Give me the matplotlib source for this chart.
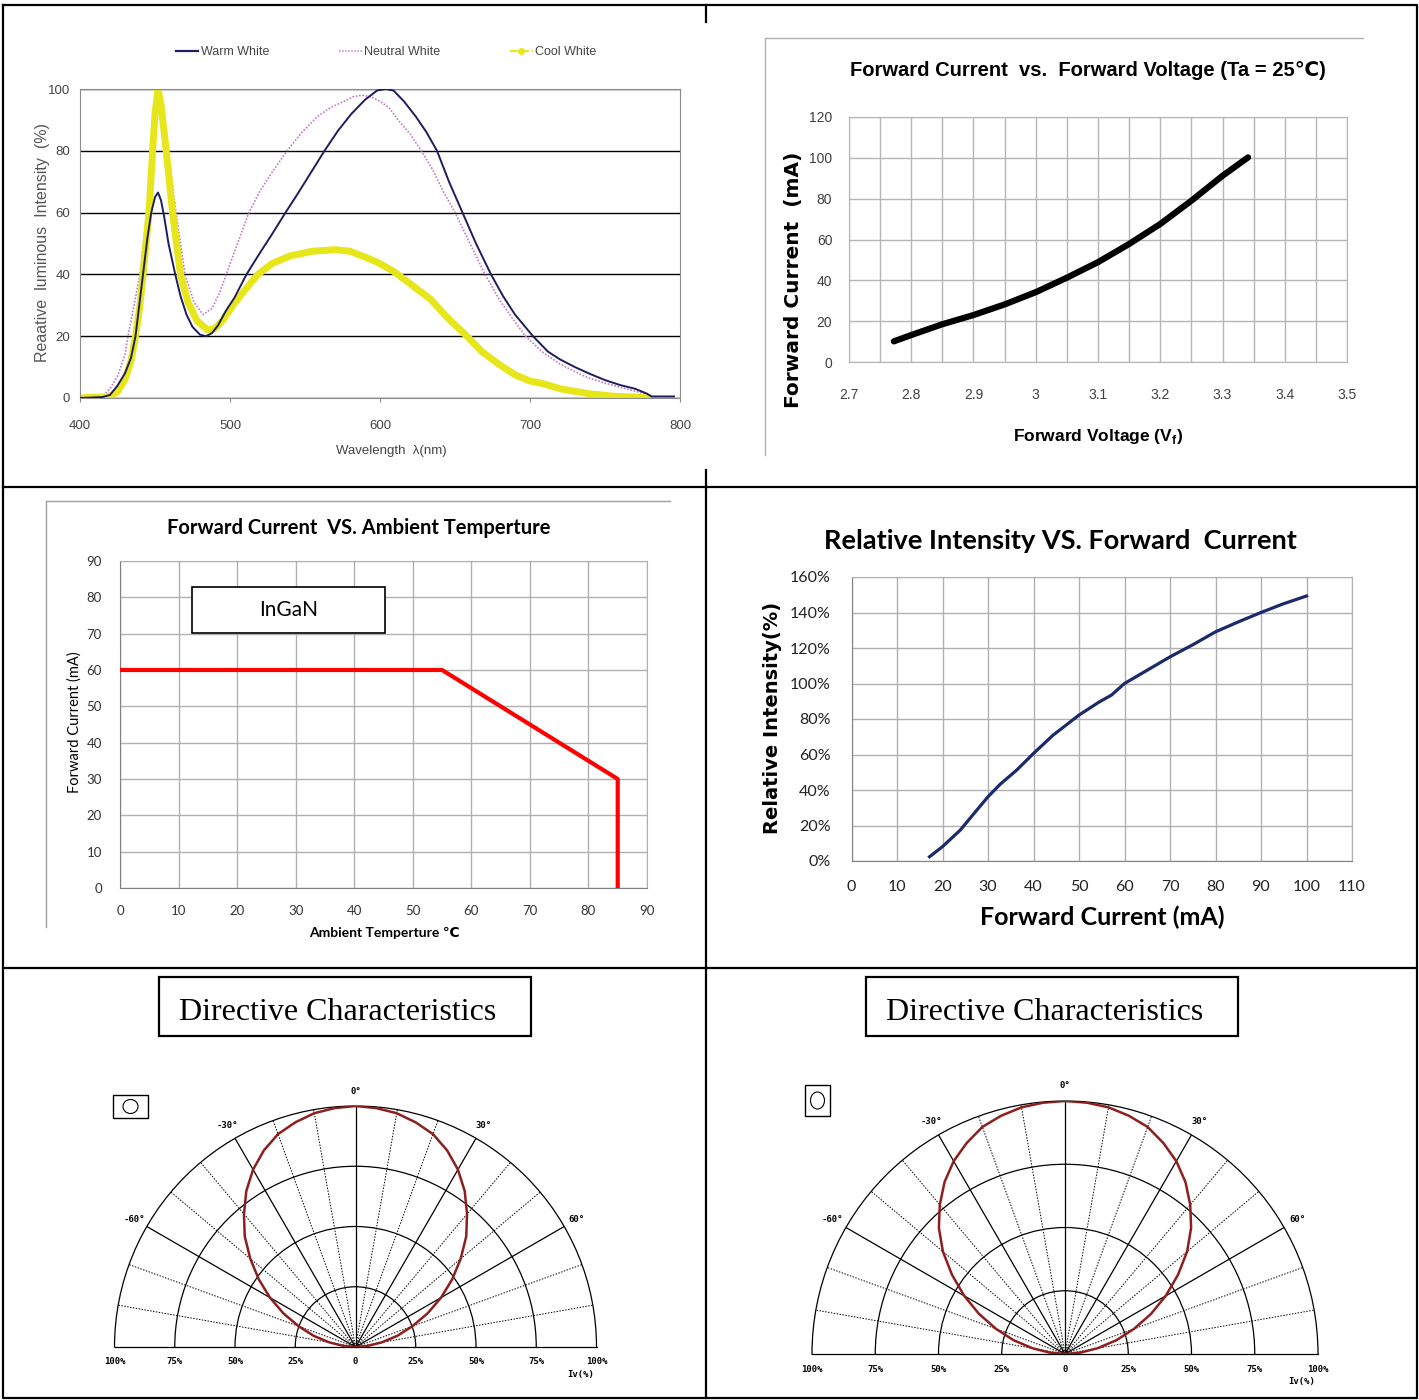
import numpy as np
import matplotlib
matplotlib.use("Agg")
import matplotlib.pyplot as plt
from matplotlib import font_manager
from matplotlib.lines import Line2D
from matplotlib.patches import Rectangle, Ellipse
from matplotlib.transforms import offset_copy

# ----------------------------------------------------
# Data
# ----------------------------------------------------

# Spectrum: wavelength (nm) vs relative intensity (%)
warm_nm = [400, 410, 415, 420, 425, 430, 434, 437, 442, 445, 447.5, 450, 452, 454, 456,
           459, 463.5, 467, 471, 475, 480, 484, 488, 492, 497, 503, 511, 520, 528, 537,
           545, 554, 563, 572, 581, 590, 598, 604, 609, 616, 624, 631, 638, 646, 655,
           664, 674, 682, 690, 702, 712, 720, 730, 740, 750, 760, 770, 778, 781, 790, 796]
warm_val = [0, 0.2, 0.3, 1, 4, 8, 13, 20, 40, 52, 60, 65, 66.5, 64, 59,
            50, 40, 33, 27, 23, 20.5, 20, 21, 23.5, 28, 32.5, 40, 47, 53, 60,
            66, 73, 80, 86.5, 92, 96.5, 99.5, 100, 99.5, 96, 91, 86, 80, 70, 60,
            50, 40, 33, 27, 20, 15, 12.5, 10, 7.8, 5.8, 4.2, 3, 1.4, 0.5, 0.5, 0.5]

neutral_nm = [400, 410, 416, 420, 425, 430, 432, 436, 440, 444.5, 448, 451, 454, 458.7,
              464, 470, 476, 482, 488, 493, 497.5, 505, 512.6, 520, 528, 538, 548, 558,
              567, 576, 582, 588, 594, 600, 606, 612, 620, 627.5, 635, 642, 650, 660,
              670, 680, 688, 697, 708, 720, 730, 739, 750, 760, 770, 780]
neutral_val = [0, 0.3, 1, 3, 7, 14, 20, 30, 40, 60, 80, 96, 95, 80,
               60, 40, 31, 27, 29, 34, 40, 50, 60, 67, 73, 80, 86, 91,
               94, 96, 97.5, 98, 97.5, 96, 94, 90, 85.5, 80, 74, 67, 60, 50,
               40, 31.5, 26, 20, 15, 11, 8.5, 6.5, 4.8, 3.5, 2.2, 1]

cool_nm = [400, 410, 419, 425, 430, 434, 437, 440, 442, 446, 448.4, 450, 452, 454,
           457.5, 461.7, 467, 472, 478, 485, 490, 495, 502, 510, 518.6, 528, 540, 555,
           570, 580, 588, 598, 609, 620, 633.6, 645, 658, 668, 679, 690, 700, 709, 720,
           739, 755, 770, 780]
cool_val = [0, 0.3, 0.3, 2, 6, 12, 20, 30, 40, 60, 80, 92, 100, 95,
            80, 60, 40, 31, 25, 22, 22.5, 25, 30, 35, 40, 43.5, 46, 47.5,
            48, 47.5, 46, 44, 41, 37, 32, 26, 20, 15, 11, 7.5, 5.5, 4.6, 3,
            1.4, 0.6, 0.3, 0]

# Forward current vs forward voltage
fv_volt = [2.772, 2.80, 2.85, 2.90, 2.95, 3.00, 3.05, 3.10, 3.15, 3.20, 3.25, 3.30, 3.341]
fv_ma = [10.1, 13.2, 18.5, 23, 28.2, 34.2, 41.3, 48.9, 57.8, 67.6, 79, 91.2, 100.2]

# Forward current derating vs ambient temperature
temp_c = [0, 55, 85, 85]
temp_ma = [60, 60, 30, 0]

# Relative intensity vs forward current
ri_ma = [17.15, 20, 23.9, 27, 30, 32.7, 36.3, 40, 44.3, 50, 54.5, 57.1, 60, 65, 70,
         75.2, 80, 85, 90, 94.7, 100]
ri_pct = [2.4, 8.1, 17.4, 27, 36.2, 43.3, 51.2, 60.6, 70.9, 82.2, 89.7, 93.4, 100, 107.5, 115,
          122.1, 129.1, 134.7, 140, 144.7, 149.3]

# Directive characteristics: angle (deg) vs relative intensity (%)
dir_deg = [-90, -85, -80, -75, -70, -65, -60, -55, -50, -45, -40, -35, -30, -25, -20, -15,
           -10, -5, 0, 5, 10, 15, 20, 25, 30, 35, 40, 45, 50, 55, 60, 65, 70, 75, 80, 85, 90]
dir_left = [0, 5, 11, 18, 25, 33, 41, 49, 57, 65, 72, 79, 85, 90, 94, 96.5,
            98.5, 99.5, 100, 99.5, 98.5, 96.5, 94, 90, 85, 79, 72, 65, 57, 49, 41, 33, 25, 18, 11, 5, 0]
dir_right = [0, 6, 13, 21, 29, 37.5, 46, 54.5, 63, 70.5, 77, 83, 88, 92, 95.5, 97.5,
             99, 99.7, 100, 99.7, 99, 97.5, 95.5, 92, 88, 83, 77, 70.5, 63, 54.5, 46, 37.5, 29, 21, 13, 6, 0]

ring_labels = [25, 50, 75, 100]
angle_labels = [-60, -30, 0, 30, 60]

# ----------------------------------------------------
# Fonts / figure
# ----------------------------------------------------

names = {f.name for f in font_manager.fontManager.ttflist}
NARROW = "Liberation Sans Narrow" if "Liberation Sans Narrow" in names else "Liberation Sans"
NARROW_F = [NARROW, "DejaVu Sans"]
CAL_F = ["Lato", "DejaVu Sans"]

W, H = 1419, 1400
fig = plt.figure(figsize=(W / 100, H / 100), dpi=100)


def add_px_axes(x0, y0, x1, y1, **kw):
    """Add axes given pixel box (top-left origin)."""
    return fig.add_axes([x0 / W, 1 - y1 / H, (x1 - x0) / W, (y1 - y0) / H], **kw)


def tick_font(ax, family, size, color="#333333", weight="normal"):
    for lab in ax.get_xticklabels() + ax.get_yticklabels():
        lab.set_fontfamily(family)
        lab.set_fontsize(size)
        lab.set_color(color)
        lab.set_fontweight(weight)


# background layer for table lines, titles and labels (pixel coords)
bg = fig.add_axes([0, 0, 1, 1])
bg.set_xlim(0, W)
bg.set_ylim(H, 0)
bg.axis("off")

lw_tab = 1.6
bg.plot([3, 1417, 1417, 3, 3], [5, 5, 1398, 1398, 5], color="black", lw=lw_tab)
bg.plot([3, 1417], [487, 487], color="black", lw=lw_tab)
bg.plot([3, 1417], [968, 968], color="black", lw=lw_tab)
bg.plot([706, 706], [5, 22], color="black", lw=lw_tab)
bg.plot([706, 706], [470, 1398], color="black", lw=lw_tab)

# ----------------------------------------------------
# Panel 1: spectrum
# ----------------------------------------------------

ax1 = add_px_axes(80, 89, 680, 398)
ax1.plot(neutral_nm, neutral_val, color="#c27ac2", lw=1.2, ls=(0, (1, 1)), zorder=2)
ax1.plot(cool_nm, cool_val, color="#e6e61a", lw=5, zorder=2.5, solid_capstyle="round")
ax1.plot(warm_nm, warm_val, color="#1e1e5c", lw=1.4, zorder=3)
ax1.set_xlim(400, 800)
ax1.set_ylim(0, 100)
ax1.set_xticks(range(400, 801, 100))
ax1.set_yticks(range(0, 101, 20))
ax1.grid(axis="y", color="black", lw=1)
for s in ax1.spines.values():
    s.set_color("#8c8c8c")
ax1.tick_params(axis="y", length=0, pad=7)
ax1.tick_params(axis="x", length=3, color="#8c8c8c", pad=13)
tick_font(ax1, NARROW_F, 9.5, "#444444")

handles = [
    Line2D([], [], color="#1e1e5c", lw=1.6),
    Line2D([], [], color="#c27ac2", lw=1.1, ls=(0, (1, 1))),
    Line2D([], [], color="#e6e61a", lw=1.5, ls="--", marker="o", ms=4),
]
leg = ax1.legend(handles, ["Warm White", "Neutral White", "Cool White"], ncol=3,
                 loc="center", bbox_to_anchor=(0.51, 1.12), frameon=False,
                 handlelength=1.8, handletextpad=0.2, columnspacing=5.6,
                 prop={"family": NARROW_F, "size": 9})
for t in leg.get_texts():
    t.set_color("#444444")

bg.text(43, 243, "Reaative  luminous  Intensity  (%)", rotation=90, ha="center", va="center",
        fontsize=11.5, color="#555555", family=["Liberation Sans", "DejaVu Sans"])
bg.text(391, 451, "Wavelength  λ(nm)", ha="center", va="center", fontsize=9.5,
        color="#444444", family=NARROW_F)

# ----------------------------------------------------
# Panel 2: forward current vs forward voltage
# ----------------------------------------------------

bg.plot([765, 765], [38, 455], color="#b0b0b0", lw=1)
bg.plot([765, 1363], [38, 38], color="#b0b0b0", lw=1)

ax2 = add_px_axes(849, 117, 1347, 362)
ax2.plot(fv_volt, fv_ma, color="black", lw=4.5, solid_capstyle="round", zorder=3)
ax2.set_xlim(2.7, 3.5)
ax2.set_ylim(0, 120)
xt = np.round(np.arange(2.7, 3.51, 0.1), 1)
ax2.set_xticks(xt)
ax2.set_xticklabels([f"{v:g}" for v in xt])
ax2.set_xticks(np.round(np.arange(2.75, 3.5, 0.1), 2), minor=True)
ax2.set_yticks(range(0, 121, 20))
ax2.grid(which="both", color="#b5b5b5", lw=1)
for s in ax2.spines.values():
    s.set_color("#b5b5b5")
ax2.tick_params(which="both", length=0)
ax2.tick_params(axis="y", pad=12)
ax2.tick_params(axis="x", pad=19)
tick_font(ax2, NARROW_F, 10, "#404040")

bg.text(1088, 70, "Forward Current  vs.  Forward Voltage (Ta = 25℃)", ha="center", va="center",
        fontsize=14.5, fontweight="bold", family=NARROW_F)
bg.text(793, 280, "Forward Current  (mA)", rotation=90, ha="center", va="center",
        fontsize=14.5, fontweight="bold", family="DejaVu Sans")
bg.text(1098, 436, r"Forward Voltage (V$_\mathregular{f}$)", ha="center", va="center",
        fontsize=12.5, fontweight="bold", family=NARROW_F)

# ----------------------------------------------------
# Panel 3: derating curve
# ----------------------------------------------------

bg.plot([46, 46], [501, 927], color="#a0a0a0", lw=1)
bg.plot([46, 670], [501, 501], color="#a0a0a0", lw=1)

ax3 = add_px_axes(120, 561, 647, 888)
ax3.plot(temp_c, temp_ma, color="#ff0000", lw=3, zorder=3)
ax3.set_xlim(0, 90)
ax3.set_ylim(0, 90)
ax3.set_xticks(range(0, 91, 10))
ax3.set_yticks(range(0, 91, 10))
ax3.grid(color="#b0b0b0", lw=1)
for s in ax3.spines.values():
    s.set_color("#b0b0b0")
ax3.spines["bottom"].set_color("#808080")
ax3.spines["left"].set_color("#808080")
ax3.tick_params(length=0)
ax3.tick_params(axis="y", pad=13)
ax3.tick_params(axis="x", pad=12)
tick_font(ax3, CAL_F, 9.5, "#333333")

ax3.add_patch(Rectangle((12.3, 70.2), 33, 12.6, facecolor="white", edgecolor="black",
                        lw=1.2, zorder=4))
ax3.text(28.8, 76.6, "InGaN", ha="center", va="center", fontsize=15, family=CAL_F, zorder=5)

bg.text(359, 528, "Forward Current  VS. Ambient Temperture", ha="center", va="center",
        fontsize=14.5, fontweight="bold", family=CAL_F)
bg.text(75, 722, "Forward Current (mA)", rotation=90, ha="center", va="center",
        fontsize=10.5, family=CAL_F)
bg.text(384, 933, "Ambient Temperture ℃", ha="center", va="center",
        fontsize=10, fontweight="bold", family=CAL_F)

# ----------------------------------------------------
# Panel 4: relative intensity vs forward current
# ----------------------------------------------------

ax4 = add_px_axes(851.5, 577, 1352, 861)
ax4.plot(ri_ma, ri_pct, color="#1b2a6b", lw=2.3, zorder=3)
ax4.set_xlim(0, 110)
ax4.set_ylim(0, 160)
ax4.set_xticks(range(0, 111, 10))
ax4.set_yticks(range(0, 161, 20))
ax4.set_yticklabels([f"{v}%" for v in range(0, 161, 20)])
ax4.grid(color="#b0b0b0", lw=1)
for s in ax4.spines.values():
    s.set_color("#b0b0b0")
ax4.spines["bottom"].set_color("#808080")
ax4.spines["left"].set_color("#808080")
ax4.tick_params(length=0)
ax4.tick_params(axis="y", pad=15)
ax4.tick_params(axis="x", pad=14)
tick_font(ax4, CAL_F, 11.5, "#222222")

bg.text(1060, 541, "Relative Intensity VS. Forward  Current", ha="center", va="center",
        fontsize=19.5, fontweight="bold", family=CAL_F)
bg.text(773, 718, "Relative Intensity(%)", rotation=90, ha="center", va="center",
        fontsize=14, fontweight="bold", family="DejaVu Sans")
bg.text(1102, 917, "Forward Current (mA)", ha="center", va="center",
        fontsize=18, fontweight="bold", family=CAL_F)

# ----------------------------------------------------
# Panels 5/6: directive characteristics
# ----------------------------------------------------

for x0 in (159, 866):
    bg.add_patch(Rectangle((x0, 977), 372, 59, facecolor="none", edgecolor="black", lw=1.6))
    bg.text(x0 + 179, 1013, "Directive Characteristics", ha="center", va="center",
            fontsize=23, family=["Liberation Serif", "DejaVu Serif"])

bg.add_patch(Rectangle((113, 1095), 35, 23, facecolor="none", edgecolor="black", lw=1))
bg.add_patch(Ellipse((130.5, 1106.5), 15, 14, facecolor="none", edgecolor="black", lw=0.8))
bg.add_patch(Rectangle((805, 1085), 25, 31, facecolor="none", edgecolor="black", lw=1))
bg.add_patch(Ellipse((817.5, 1100.5), 14, 17, facecolor="none", edgecolor="black", lw=0.8))


def directive_panel(cx, cy, R, r_vals):
    # the half-polar wedge is drawn at half the axes box, so give it a 4R x 2R box
    ax = add_px_axes(cx - 2 * R, cy - 1.5 * R, cx + 2 * R, cy + 0.5 * R, projection="polar")
    ax.set_theta_zero_location("N")
    ax.set_theta_direction(-1)
    ax.set_thetamin(-90)
    ax.set_thetamax(90)
    ax.set_ylim(0, 100)
    ax.set_xticks([])
    ax.set_yticks([25, 50, 75])
    ax.set_yticklabels([])
    ax.yaxis.grid(True, color="black", lw=0.9, ls="-")
    for s in ax.spines.values():
        s.set_color("black")
        s.set_linewidth(0.9)
    for a in range(-80, 81, 10):
        solid = a % 30 == 0
        ax.plot(np.deg2rad([a, a]), [0, 100], color="black",
                lw=0.9 if solid else 0.7, ls="-" if solid else (0, (1.5, 1.5)), zorder=2)
    ax.plot(np.deg2rad(dir_deg), r_vals, color="#8e1f1f", lw=1.8, zorder=5)

    mono = dict(family="DejaVu Sans Mono", fontsize=6.5, fontweight="bold", clip_on=False)
    for a in angle_labels:
        ax.text(np.deg2rad(a), 106, f"{a}°", ha="center", va="center", **mono)
    below = offset_copy(ax.transData, fig=fig, y=-15, units="dots")
    ax.text(0, 0, "0", ha="center", va="center", transform=below, **mono)
    for v in ring_labels:
        for a in (-90, 90):
            ax.text(np.deg2rad(a), v, f"{v}%", ha="center", va="center", transform=below, **mono)
    below2 = offset_copy(ax.transData, fig=fig, x=-16, y=-27, units="dots")
    ax.text(np.deg2rad(90), 100, "Iv(%)", ha="center", va="center", transform=below2, **mono)
    return ax


directive_panel(355.5, 1347, 241, dir_left)
directive_panel(1065, 1354, 253, dir_right)

fig.savefig("out.png", dpi=100)
